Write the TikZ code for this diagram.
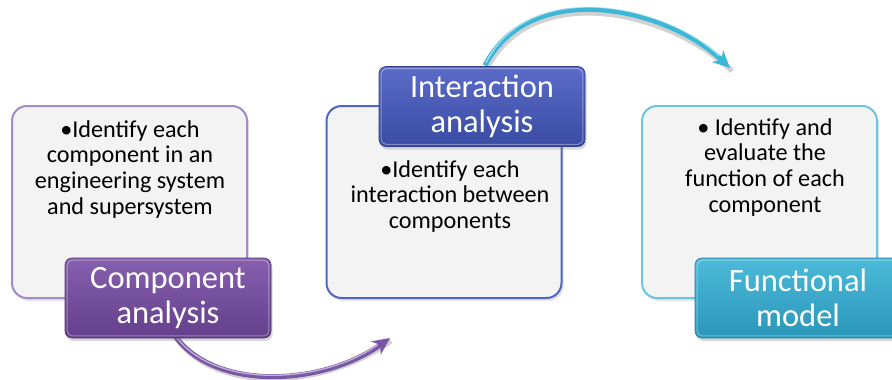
\documentclass[tikz,border=0pt]{standalone}
\usepackage{fontspec}
\setmainfont{Carlito}
\usetikzlibrary{arrows.meta,shadows,calc}

\definecolor{panelfill}{HTML}{F3F3F3}
\definecolor{purpleedge}{HTML}{9F8CC8}
\definecolor{blueedge}{HTML}{4F66C2}
\definecolor{cyanedge}{HTML}{6CC6E0}
\definecolor{purpletop}{HTML}{8660AE}
\definecolor{purplebot}{HTML}{643F8C}
\definecolor{bluetop}{HTML}{5A6CC8}
\definecolor{bluebot}{HTML}{3A4BA3}
\definecolor{cyantop}{HTML}{4CBAD9}
\definecolor{cyanbot}{HTML}{2A96B9}
\definecolor{purplearrow}{HTML}{7A56A6}
\definecolor{cyanarrow}{HTML}{3DB7D8}

\tikzset{
  panel/.style={draw=#1, line width=2pt, fill=panelfill, rounded corners=15pt,
    minimum width=235pt, minimum height=192pt, inner sep=0pt,
    drop shadow={opacity=0.22, shadow xshift=2pt, shadow yshift=-3pt}},
  bodytext/.style={anchor=north, align=center, inner sep=0pt,
    font=\fontsize{24.2}{25.8}\selectfont, text=black},
  tag/.style 2 args={rounded corners=7pt, top color=#1, bottom color=#2,
    draw=#2!85!black, line width=0.6pt,
    minimum width=206pt, minimum height=80pt, inner sep=0pt, align=center,
    text=white, font=\fontsize{32.5}{35}\selectfont,
    drop shadow={opacity=0.3, shadow xshift=1.5pt, shadow yshift=-3pt}},
  bevel/.style={draw=white, draw opacity=0.35, line width=1pt, rounded corners=5pt},
  flowarrow/.style={line width=5pt, draw=#1,
    -{Stealth[length=17pt, width=16pt, inset=5pt]}},
  arrowshade/.style={line width=5pt, draw=black, draw opacity=0.18},
  arrowshine/.style={line width=1.3pt, draw=white, draw opacity=0.55,
    shorten >=15pt, shorten <=2pt},
}

\begin{document}
\begin{tikzpicture}[x=1pt, y=-1pt]
\useasboundingbox (0,0) rectangle (892,380);
\clip (0,0) rectangle (892,380);

% text panels
\node[panel=purpleedge] (p1) at (129.5,202) {};
\node[panel=blueedge]   (p2) at (444,202)   {};
\node[panel=cyanedge]   (p3) at (759.5,202) {};

\node[bodytext] (t1) at (130,120) {•Identify each\\component in an\\engineering system\\and supersystem};
\node[bodytext] (t2) at (450,160) {•Identify each\\interaction between\\components};
\node[bodytext] (t3) at (765,118) {• Identify and\\evaluate the\\function of each\\component};

% label centres, used as anchors for the arrows
\path (168,298) coordinate (c1) (482,106.5) coordinate (c2) (798,298) coordinate (c3);
\coordinate (tipA) at (390,338);
\coordinate (tipB) at (730,68);

% curved arrows (drawn beneath the labels)
\draw[arrowshade] ($(c1)+(4,33)$) .. controls (207,395) and (322,391) .. ($(tipA)+(1,3)$);
\draw[flowarrow=purplearrow] ($(c1)+(2,30)$) .. controls (205,392) and (320,388) .. (tipA);
\draw[arrowshine] ($(c1)+(2,29)$) .. controls (205,390) and (320,386) .. ($(tipA)+(0,-2)$);

\draw[arrowshade] ($(c2)+(5,-38)$) .. controls (532,-19) and (667,9) .. ($(tipB)+(2,3)$);
\draw[flowarrow=cyanarrow] ($(c2)+(3,-41)$) .. controls (530,-22) and (665,6) .. (tipB);
\draw[arrowshine] ($(c2)+(3,-42)$) .. controls (530,-24) and (665,4) .. ($(tipB)+(0,-2)$);

% step labels
\node[tag={purpletop}{purplebot}] (l1) at (c1) {Component\\analysis};
\node[tag={bluetop}{bluebot}]     (l2) at (c2) {Interaction\\analysis};
\node[tag={cyantop}{cyanbot}]     (l3) at (c3) {Functional\\model};

\foreach \n in {l1,l2,l3}{
  \draw[bevel] ($(\n.south west)+(2.5,-2.5)$) rectangle ($(\n.north east)+(-2.5,2.5)$);
}
\end{tikzpicture}
\end{document}
